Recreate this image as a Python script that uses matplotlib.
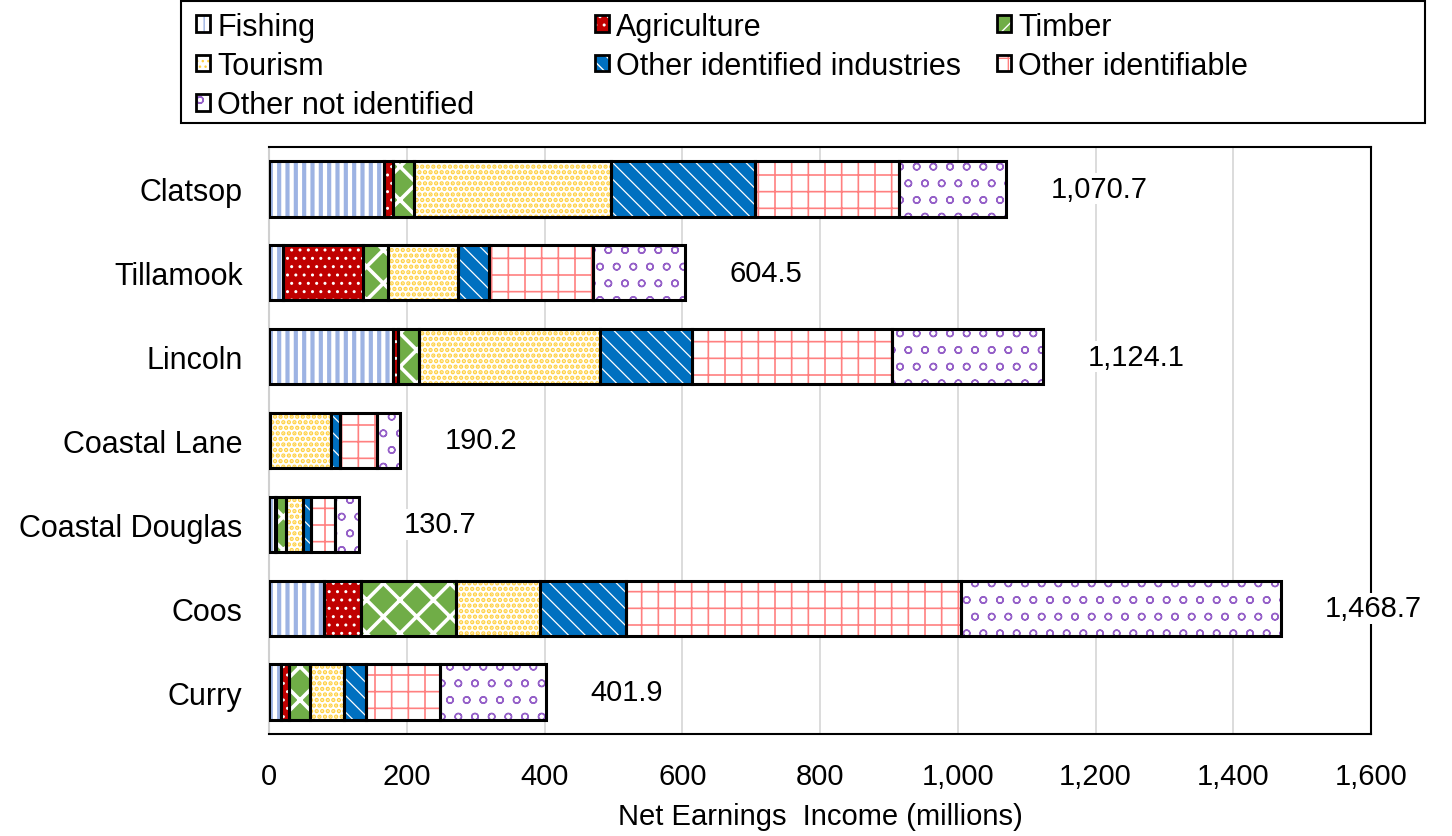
import matplotlib.pyplot as plt
from matplotlib.patches import Patch, Rectangle
from matplotlib.legend_handler import HandlerTuple

plt.rcParams['font.family'] = ['Liberation Sans', 'DejaVu Sans']

counties = ['Clatsop', 'Tillamook', 'Lincoln', 'Coastal Lane', 'Coastal Douglas', 'Coos', 'Curry']
totals = [1070.7, 604.5, 1124.1, 190.2, 130.7, 1468.7, 401.9]

# net earnings by sector (millions)
fishing = [167.0, 20.4, 180.5, 0.5, 9.2, 79.6, 17.9]
agriculture = [13.5, 116.4, 6.2, 0.2, 0.6, 53.9, 10.8]
timber = [30.0, 36.4, 31.2, 0.5, 15.4, 137.6, 30.5]
tourism = [286.2, 100.8, 262.4, 88.6, 24.3, 121.9, 50.0]
other_ind = [209.2, 44.7, 134.3, 13.1, 12.1, 124.7, 31.0]
other_idf = [208.1, 151.3, 290.2, 54.3, 34.9, 486.8, 108.2]
not_ident = [156.7, 134.5, 219.3, 33.0, 34.2, 464.2, 153.5]

series = [fishing, agriculture, timber, tourism, other_ind, other_idf, not_ident]
# name, face colour, hatch colour, hatch, hatch linewidth
styles = [
    ('Fishing', 'white', '#9db3e3', '||', 3.0),
    ('Agriculture', '#c00000', 'white', '..', 1.0),
    ('Timber', '#70ad47', 'white', 'x', 2.6),
    ('Tourism', 'white', '#ffd040', '...', 2.2),
    ('Other identified industries', '#0070c0', 'white', '\\\\', 0.9),
    ('Other identifiable', 'white', '#ff8080', '+', 1.2),
    ('Other not identified', 'white', '#9560c8', 'o', 1.0),
]

fig = plt.figure(figsize=(14.52, 8.37), dpi=100)
ax = fig.add_axes([269/1452, 1-735/837, (1371-269)/1452, (735-148)/837])

y = list(range(len(counties)))
left = [0.0]*len(counties)
handles = []
for (name, fc, hc, hatch, hlw), vals in zip(styles, series):
    with plt.rc_context({'hatch.linewidth': hlw}):
        ax.barh(y, vals, left=left, height=0.66, color=fc, edgecolor=hc, hatch=hatch, linewidth=0, zorder=2)
        h1 = Patch(facecolor=fc, edgecolor=hc, hatch=hatch, linewidth=0)
    ax.barh(y, vals, left=left, height=0.66, fill=False, edgecolor='black', linewidth=2.2, zorder=3)
    h2 = Patch(fill=False, edgecolor='black', linewidth=2)
    handles.append((h1, h2))
    left = [l+v for l, v in zip(left, vals)]

for i, t in enumerate(totals):
    ax.annotate(f'{t:,.1f}', xy=(t, i), xytext=(32, 0), textcoords='offset points',
                ha='left', va='center', fontsize=21, zorder=5,
                bbox=dict(fc='white', ec='none', pad=1))

ax.set_xlim(0, 1600)
ax.set_ylim(6.5, -0.5)
ax.set_xticks(range(0, 1601, 200))
ax.set_xticklabels([f'{v:,}' for v in range(0, 1601, 200)])
ax.set_yticks(y)
ax.set_yticklabels(counties)
ax.tick_params(axis='both', length=0, labelsize=21)
ax.tick_params(axis='y', labelsize=22, pad=19)
ax.tick_params(axis='x', pad=20)
ax.grid(axis='x', color='#d9d9d9', linewidth=1.3)
ax.set_axisbelow(True)
for s in ['top', 'right', 'bottom']:
    ax.spines[s].set_color('black')
    ax.spines[s].set_linewidth(1.5)
ax.spines['left'].set_color('#d0d0d0')
ax.spines['left'].set_linewidth(1.5)
ax.set_xlabel('Net Earnings  Income (millions)', fontsize=21, labelpad=9)

# legend: three fixed-width columns inside one box
names = [s[0] for s in styles]
col_x = [196/1452, 595/1452, 997/1452]
for k in range(3):
    fig.legend(handles=handles[k::3], labels=names[k::3], loc='upper left',
               bbox_to_anchor=(col_x[k], 0.985), bbox_transform=fig.transFigure,
               frameon=False, fontsize=22, handlelength=0.45, handleheight=0.45,
               handletextpad=0.25, labelspacing=0.31, borderpad=0, borderaxespad=0,
               handler_map={tuple: HandlerTuple(ndivide=1)})
fig.add_artist(Rectangle((181/1452, 1-124/837), (1425-181)/1452, 122/837,
                         transform=fig.transFigure, fill=False, edgecolor='black', linewidth=1.5))

fig.savefig('out.png', dpi=100)
